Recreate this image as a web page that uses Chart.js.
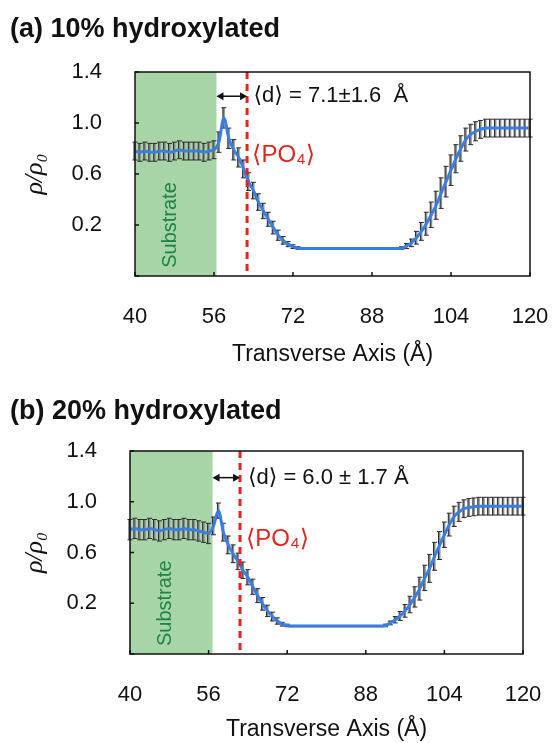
<!DOCTYPE html>
<html>
<head>
<meta charset="utf-8">
<script src="https://cdn.jsdelivr.net/npm/chart.js@4.4.1/dist/chart.umd.min.js"></script>
<style>
  body { margin: 0; background: #fff; width: 552px; height: 743px; position: relative; overflow: hidden; font-family: "Liberation Sans", Arial, sans-serif; }
  .panel { position: absolute; left: 0; width: 552px; }
  .head { position: absolute; left: 10px; font-weight: bold; font-size: 27px; color: #111; }
</style>
</head>
<body>
<div class="panel" style="top:0;height:380px"><canvas id="chartA"></canvas></div>
<div class="panel" style="top:380px;height:363px"><canvas id="chartB"></canvas></div>
<div class="head" style="top:13px">(a) 10% hydroxylated</div>
<div class="head" style="top:395px">(b) 20% hydroxylated</div>
<script>
// transverse positions (Å)
const positions = [40, 41, 42, 43, 44, 45, 46, 47, 48, 49, 50, 51, 52, 53, 54, 55, 56, 57, 58, 59,
  60, 61, 62, 63, 64, 65, 66, 67, 68, 69, 70, 71, 72, 73, 74, 75, 76, 77, 78, 79,
  80, 81, 82, 83, 84, 85, 86, 87, 88, 89, 90, 91, 92, 93, 94, 95, 96, 97, 98, 99,
  100, 101, 102, 103, 104, 105, 106, 107, 108, 109, 110, 111, 112, 113, 114, 115, 116, 117, 118, 119, 120];

// (a) 10% hydroxylated
const densityA = [0.78, 0.77, 0.78, 0.77, 0.77, 0.78, 0.78, 0.77, 0.78, 0.79, 0.78, 0.78, 0.78, 0.78, 0.77, 0.78, 0.79,
  0.85, 1.04, 0.88, 0.79, 0.73, 0.64, 0.54, 0.47, 0.38, 0.31, 0.245, 0.18, 0.12, 0.08, 0.05, 0.03, 0.02,
  0.015, 0.015, 0.015, 0.015, 0.015, 0.015, 0.015, 0.015, 0.015, 0.015, 0.015, 0.015, 0.015, 0.015, 0.015, 0.015, 0.015, 0.015, 0.015, 0.015,
  0.02, 0.035, 0.06, 0.10, 0.15, 0.21, 0.28, 0.355, 0.45, 0.54, 0.63, 0.72, 0.80, 0.87, 0.91, 0.935, 0.95, 0.96,
  0.96, 0.96, 0.96, 0.96, 0.96, 0.96, 0.96, 0.96, 0.96];
const errorA = [0.07, 0.07, 0.07, 0.07, 0.07, 0.07, 0.07, 0.07, 0.07, 0.07, 0.07, 0.07, 0.07, 0.07, 0.07, 0.07, 0.07,
  0.08, 0.08, 0.08, 0.08, 0.075, 0.07, 0.07, 0.065, 0.065, 0.06, 0.055, 0.05, 0.04, 0.03, 0.02, 0.015, 0.01,
  0.005, 0.005, 0.005, 0.005, 0.005, 0.005, 0.005, 0.005, 0.005, 0.005, 0.005, 0.005, 0.005, 0.005, 0.005, 0.005, 0.005, 0.005, 0.005, 0.005,
  0.01, 0.02, 0.03, 0.05, 0.07, 0.09, 0.10, 0.11, 0.12, 0.12, 0.12, 0.11, 0.10, 0.09, 0.08, 0.075, 0.07, 0.07,
  0.07, 0.07, 0.07, 0.07, 0.07, 0.07, 0.07, 0.07, 0.07];

// (b) 20% hydroxylated
const densityB = [0.78, 0.79, 0.78, 0.78, 0.79, 0.78, 0.77, 0.78, 0.79, 0.78, 0.78, 0.79, 0.78, 0.78, 0.77, 0.76, 0.75,
  0.81, 0.93, 0.76, 0.66, 0.59, 0.53, 0.46, 0.405, 0.33, 0.26, 0.195, 0.14, 0.095, 0.06, 0.035, 0.025,
  0.02, 0.02, 0.02, 0.02, 0.02, 0.02, 0.02, 0.02, 0.02, 0.02, 0.02, 0.02, 0.02, 0.02, 0.02, 0.02, 0.02, 0.02, 0.02,
  0.025, 0.045, 0.07, 0.10, 0.14, 0.19, 0.25, 0.315, 0.40, 0.475, 0.57, 0.655, 0.74, 0.82, 0.885, 0.92, 0.945, 0.955, 0.96,
  0.965, 0.965, 0.965, 0.965, 0.965, 0.965, 0.965, 0.965, 0.965, 0.965];
const errorB = [0.08, 0.08, 0.08, 0.08, 0.08, 0.08, 0.08, 0.08, 0.08, 0.08, 0.08, 0.08, 0.08, 0.08, 0.08, 0.08, 0.08,
  0.07, 0.06, 0.07, 0.07, 0.07, 0.065, 0.065, 0.06, 0.06, 0.055, 0.05, 0.045, 0.035, 0.025, 0.015, 0.01,
  0.005, 0.005, 0.005, 0.005, 0.005, 0.005, 0.005, 0.005, 0.005, 0.005, 0.005, 0.005, 0.005, 0.005, 0.005, 0.005, 0.005, 0.005, 0.005,
  0.01, 0.015, 0.025, 0.035, 0.05, 0.065, 0.08, 0.09, 0.10, 0.11, 0.11, 0.11, 0.10, 0.09, 0.08, 0.075, 0.07, 0.07, 0.07,
  0.07, 0.07, 0.07, 0.07, 0.07, 0.07, 0.07, 0.07, 0.07, 0.07];

const xTickValues = [40, 56, 72, 88, 104, 120];
const yTickValues = [-0.2, 0.2, 0.6, 1.0, 1.4];

// substrate edge, mean PO4 position, annotation text
const substrateEdgeA = 56.5, po4A = 62.7, distLabelA = '\u27E8d\u27E9 = 7.1\u00B11.6  \u00C5';
const substrateEdgeB = 56.8, po4B = 62.4, distLabelB = '\u27E8d\u27E9 = 6.0 \u00B1 1.7 \u00C5';

const FONT = '"Liberation Sans", Arial, "DejaVu Sans", sans-serif';

const decor = {
  id: 'decor',
  beforeDatasetsDraw(chart, args, o) {
    const { ctx, chartArea: a, scales: { x, y } } = chart;
    ctx.save();
    // substrate block
    const xe = x.getPixelForValue(o.edge);
    ctx.fillStyle = '#a8d5a8';
    ctx.fillRect(a.left, a.top, xe - a.left, a.bottom - a.top);
    ctx.save();
    ctx.translate(x.getPixelForValue(47.2), y.getPixelForValue(0.2));
    ctx.rotate(-Math.PI / 2);
    ctx.fillStyle = '#1d8348';
    ctx.font = '20px ' + FONT;
    ctx.textAlign = 'center';
    ctx.textBaseline = 'middle';
    ctx.fillText('Substrate', 0, 0);
    ctx.restore();
    // error bars
    const ds = chart.data.datasets[0];
    ds.data.forEach((p, i) => {
      const e = ds.errors[i];
      const px = x.getPixelForValue(p.x);
      const top = y.getPixelForValue(p.y + e), bot = y.getPixelForValue(p.y - e);
      ctx.strokeStyle = '#8c8c8c';
      ctx.lineWidth = 2;
      ctx.beginPath(); ctx.moveTo(px, top); ctx.lineTo(px, bot); ctx.stroke();
      ctx.strokeStyle = '#2a2a2a';
      ctx.lineWidth = 1;
      ctx.beginPath();
      ctx.moveTo(px - 2.5, top); ctx.lineTo(px + 2.5, top);
      ctx.moveTo(px - 2.5, bot); ctx.lineTo(px + 2.5, bot);
      ctx.moveTo(px - 1, top); ctx.lineTo(px - 1, bot);
      ctx.stroke();
    });
    ctx.restore();
  },
  afterDatasetsDraw(chart, args, o) {
    const { ctx, chartArea: a, scales: { x, y } } = chart;
    ctx.save();
    // mean PO4 position
    const xr = x.getPixelForValue(o.po4);
    ctx.strokeStyle = '#e3261b';
    ctx.lineWidth = 3;
    ctx.setLineDash([7, 5]);
    ctx.beginPath(); ctx.moveTo(xr, a.top); ctx.lineTo(xr, a.bottom); ctx.stroke();
    ctx.setLineDash([]);
    // double arrow
    const xe = x.getPixelForValue(o.edge), ya = y.getPixelForValue(o.arrowY);
    ctx.strokeStyle = '#111';
    ctx.fillStyle = '#111';
    ctx.lineWidth = 1.5;
    ctx.beginPath(); ctx.moveTo(xe + 3, ya); ctx.lineTo(xr - 3, ya); ctx.stroke();
    ctx.beginPath();
    ctx.moveTo(xe, ya); ctx.lineTo(xe + 7, ya - 4); ctx.lineTo(xe + 7, ya + 4); ctx.closePath();
    ctx.moveTo(xr, ya); ctx.lineTo(xr - 7, ya - 4); ctx.lineTo(xr - 7, ya + 4); ctx.closePath();
    ctx.fill();
    // labels
    ctx.textBaseline = 'middle';
    ctx.textAlign = 'left';
    ctx.font = '22px ' + FONT;
    ctx.fillText(o.label, x.getPixelForValue(o.labelX), y.getPixelForValue(o.arrowY));
    ctx.fillStyle = '#e3261b';
    ctx.font = '24px ' + FONT;
    ctx.fillText('\u27E8PO\u2084\u27E9', x.getPixelForValue(o.po4LabelX), y.getPixelForValue(o.po4LabelY));
    // frame and inward ticks
    ctx.strokeStyle = '#111';
    ctx.lineWidth = 1.5;
    ctx.strokeRect(a.left, a.top, a.right - a.left, a.bottom - a.top);
    ctx.beginPath();
    yTickValues.forEach(v => {
      const py = y.getPixelForValue(v);
      ctx.moveTo(a.left, py); ctx.lineTo(a.left + 4, py);
    });
    xTickValues.forEach(v => {
      const px = x.getPixelForValue(v);
      ctx.moveTo(px, a.bottom); ctx.lineTo(px, a.bottom - 4);
    });
    ctx.stroke();
    ctx.restore();
  }
};

function buildPanel(id, density, errors, deco, pad, yWidth, xHeight) {
  return new Chart(document.getElementById(id), {
    type: 'line',
    data: {
      datasets: [{
        data: positions.map((p, i) => ({ x: p, y: density[i] })),
        errors: errors,
        borderColor: '#3b7ee3',
        borderWidth: 3,
        pointRadius: 0,
        cubicInterpolationMode: 'monotone',
        fill: false
      }]
    },
    options: {
      responsive: true,
      maintainAspectRatio: false,
      animation: false,
      layout: { padding: pad },
      plugins: { legend: { display: false }, tooltip: { enabled: false }, decor: deco },
      scales: {
        x: {
          type: 'linear', min: 40, max: 120,
          grid: { display: false }, border: { display: false },
          afterBuildTicks: s => { s.ticks = xTickValues.map(v => ({ value: v })); },
          afterFit: s => { s.height = xHeight; s.paddingLeft = 0; s.paddingRight = 0; },
          ticks: { padding: 20, maxRotation: 0, color: '#111', font: { family: FONT, size: 22 } },
          title: { display: true, text: 'Transverse Axis (\u00C5)', color: '#111', font: { family: FONT, size: 23 }, padding: { top: 0, bottom: 0 } }
        },
        y: {
          type: 'linear', min: -0.2, max: 1.4,
          grid: { display: false }, border: { display: false },
          afterBuildTicks: s => { s.ticks = yTickValues.map(v => ({ value: v })); },
          afterFit: s => { s.width = yWidth; s.paddingTop = 0; s.paddingBottom = 0; },
          ticks: { padding: 25, color: '#111', font: { family: FONT, size: 22 }, callback: v => v < 0 ? '' : v.toFixed(1) },
          title: { display: true, text: '\u03C1/\u03C1\u2080', color: '#111', font: { family: '"Liberation Serif", "DejaVu Serif", serif', size: 26, style: 'italic' }, padding: { top: 20, bottom: 0 } }
        }
      }
    },
    plugins: [decor]
  });
}

buildPanel('chartA', densityA, errorA,
  { edge: substrateEdgeA, po4: po4A, label: distLabelA, arrowY: 1.21, labelX: 64.0, po4LabelX: 63.7, po4LabelY: 0.75 },
  { top: 72, right: 22, bottom: 12, left: 0 }, 135, 92);
buildPanel('chartB', densityB, errorB,
  { edge: substrateEdgeB, po4: po4B, label: distLabelB, arrowY: 1.19, labelX: 64.0, po4LabelX: 63.6, po4LabelY: 0.70 },
  { top: 71, right: 29, bottom: 0, left: 0 }, 130, 89);
</script>
</body>
</html>
